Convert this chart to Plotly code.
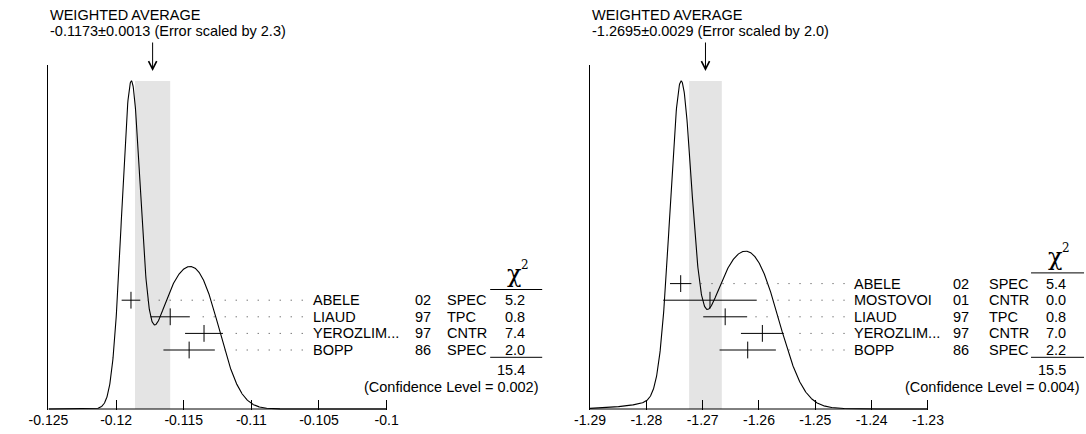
import numpy as np
import plotly.graph_objects as go

W, H = 1086, 434
FONT = "Liberation Sans, Arial, Helvetica, sans-serif"
SERIF = "DejaVu Serif, Liberation Serif, serif"
FS = 14.5

# ---------------- data ----------------
left_names = ["ABELE", "LIAUD", "YEROZLIM...", "BOPP"]
left_years = ["02", "97", "97", "86"]
left_methods = ["SPEC", "TPC", "CNTR", "SPEC"]
left_values = [-0.1189, -0.1160, -0.1135, -0.1146]
left_errors = [0.00069, 0.00145, 0.0014, 0.0019]
left_chi2 = ["5.2", "0.8", "7.4", "2.0"]
left_chi2_total = "15.4"
left_cl = "0.002"
left_avg = -0.1173
left_avg_err = 0.0013
left_scale = "2.3"
left_ticks = [-0.125, -0.12, -0.115, -0.11, -0.105, -0.1]
left_ticktext = ["-0.125", "-0.12", "-0.115", "-0.11", "-0.105", "-0.1"]

right_names = ["ABELE", "MOSTOVOI", "LIAUD", "YEROZLIM...", "BOPP"]
right_years = ["02", "01", "97", "97", "86"]
right_methods = ["SPEC", "CNTR", "TPC", "CNTR", "SPEC"]
right_values = [-1.2739, -1.2687, -1.2660, -1.2594, -1.2620]
right_errors = [0.0019, 0.0083, 0.0039, 0.0038, 0.0050]
right_chi2 = ["5.4", "0.0", "0.8", "7.0", "2.2"]
right_chi2_total = "15.5"
right_cl = "0.004"
right_avg = -1.2695
right_avg_err = 0.0029
right_scale = "2.0"
right_ticks = [-1.29, -1.28, -1.27, -1.26, -1.25, -1.24, -1.23]
right_ticktext = ["-1.29", "-1.28", "-1.27", "-1.26", "-1.25", "-1.24", "-1.23"]

# ---------------- layout geometry (pixels) ----------------
DOM_TOP, DOM_BOT = 65, 410      # plot area vertical extent
BASE_PX, PEAK_PX = 409, 81      # baseline and ideogram peak
ROW_PX = 16.6                   # row spacing
LAST_ROW_PX = 350               # y of bottom row

panels = [
    dict(names=left_names, years=left_years, methods=left_methods, values=left_values,
         errors=left_errors, chi2=left_chi2, total=left_chi2_total, cl=left_cl,
         avg=left_avg, err=left_avg_err, scale=left_scale, ticks=left_ticks, ticktext=left_ticktext,
         ax0=29, ax1=373.5, pr=540, name_px=296, year_px=400, meth_px=433, chi_r=517,
         line0=479, line1=532, cl_r=531, xa="x", ya="y", ya2="y2"),
    dict(names=right_names, years=right_years, methods=right_methods, values=right_values,
         errors=right_errors, chi2=right_chi2, total=right_chi2_total, cl=right_cl,
         avg=right_avg, err=right_avg_err, scale=right_scale, ticks=right_ticks, ticktext=right_ticktext,
         ax0=580.7, ax1=925, pr=1086, name_px=848, year_px=948, meth_px=985, chi_r=1068,
         line0=1030, line1=1084, cl_r=1082, xa="x2", ya="y3", ya2="y4"),
]

fig = go.Figure()
annotations = []
shapes = []
layout_axes = {}


def py(p):
    return 1 - p / H


for i, P in enumerate(panels):
    t0, t1 = P["ticks"][0], P["ticks"][-1]
    unit = (t1 - t0) / (P["ax1"] - P["ax0"])  # data units per pixel
    xr = [t0, t0 + (P["pr"] - P["ax0"]) * unit]

    vals = np.array(P["values"])
    errs = np.array(P["errors"])
    # ideogram: sum of gaussians, area proportional to 1/sigma
    xg = np.linspace(t0, t1, 1200)
    curve = np.zeros_like(xg)
    for v, e in zip(vals, errs):
        curve += np.exp(-0.5 * ((xg - v) / e) ** 2) / e ** 2
    cmax = curve.max()
    dom_h = DOM_BOT - DOM_TOP
    R = cmax * dom_h / (BASE_PX - PEAK_PX)
    r0 = -R * (DOM_BOT - BASE_PX) / dom_h
    yr = [r0, r0 + R]

    n = len(P["names"])
    Rrow = dom_h / ROW_PX
    rr0 = -(DOM_BOT - LAST_ROW_PX) / ROW_PX
    yr2 = [rr0, rr0 + Rrow]
    rows = list(range(n - 1, -1, -1))

    xa, ya, ya2 = P["xa"], P["ya"], P["ya2"]

    # band
    shapes.append(dict(type="rect", xref=xa, yref=ya, x0=P["avg"] - P["err"], x1=P["avg"] + P["err"],
                       y0=0, y1=cmax, fillcolor="rgb(228,228,228)", line=dict(width=0), layer="below"))

    # axis baseline
    fig.add_trace(go.Scatter(x=[t0, t1], y=[0, 0], mode="lines", xaxis=xa, yaxis=ya,
                             line=dict(color="black", width=1), hoverinfo="skip", showlegend=False))
    # curve
    fig.add_trace(go.Scatter(x=xg, y=curve, mode="lines", xaxis=xa, yaxis=ya,
                             line=dict(color="black", width=1.1), hoverinfo="skip", showlegend=False))

    # dotted leaders (drawn from name end back to bar end so dots align)
    for k in range(n):
        xs = vals[k] + errs[k] + 6 * unit
        xe = t0 + (P["name_px"] - 8 - P["ax0"]) * unit
        fig.add_trace(go.Scatter(x=[xe, xs], y=[rows[k], rows[k]], mode="lines", xaxis=xa, yaxis=ya2,
                                 line=dict(color="rgb(60,60,60)", width=1, dash="1px,10px"),
                                 hoverinfo="skip", showlegend=False))

    # measurements
    fig.add_trace(go.Scatter(x=vals, y=rows, mode="markers", xaxis=xa, yaxis=ya2,
                             marker=dict(symbol="line-ns", size=12, line=dict(color="black", width=1),
                                         color="black"),
                             error_x=dict(type="data", array=errs, color="black", thickness=1, width=0),
                             hoverinfo="skip", showlegend=False))

    # axes
    xname = "xaxis" if i == 0 else "xaxis2"
    yname = "yaxis" if i == 0 else "yaxis3"
    y2name = "yaxis2" if i == 0 else "yaxis4"
    layout_axes[xname] = dict(domain=[P["ax0"] / W, P["pr"] / W], range=xr, anchor=ya,
                              tickvals=P["ticks"], ticktext=P["ticktext"], ticks="inside", ticklen=10,
                              tickwidth=1, tickcolor="black", showline=False, showgrid=False,
                              zeroline=False, tickfont=dict(family=FONT, size=14, color="black"),
                              fixedrange=True)
    layout_axes[yname] = dict(domain=[1 - DOM_BOT / H, 1 - DOM_TOP / H], range=yr, anchor=xa,
                              showline=True, linecolor="black", linewidth=1, showticklabels=False,
                              ticks="", showgrid=False, zeroline=False, fixedrange=True)
    layout_axes[y2name] = dict(overlaying=ya, range=yr2, anchor=xa, visible=False, fixedrange=True)

    # texts
    x_left = P["ax0"] / W
    annotations.append(dict(text="WEIGHTED AVERAGE", x=x_left, y=py(15), xref="paper", yref="paper",
                            xanchor="left", yanchor="middle", showarrow=False,
                            font=dict(family=FONT, size=FS, color="black")))
    annotations.append(dict(text=f"{P['avg']:.4f}\u00b1{P['err']:.4f} (Error scaled by {P['scale']})",
                            x=x_left, y=py(31), xref="paper", yref="paper",
                            xanchor="left", yanchor="middle", showarrow=False,
                            font=dict(family=FONT, size=FS, color="black")))
    annotations.append(dict(text="", x=P["avg"], y=py(71), xref=xa, yref="paper", showarrow=True,
                            ax=0, ay=-30, arrowhead=5, arrowsize=1.6, arrowwidth=1, arrowcolor="black"))

    for k in range(n):
        ypx = LAST_ROW_PX - rows[k] * ROW_PX
        for txt, xp, anc in [(P["names"][k], P["name_px"], "left"), (P["years"][k], P["year_px"], "left"),
                             (P["methods"][k], P["meth_px"], "left"), (P["chi2"][k], P["chi_r"], "right")]:
            annotations.append(dict(text=txt, x=xp / W, y=py(ypx), xref="paper", yref="paper",
                                    xanchor=anc, yanchor="middle", showarrow=False,
                                    font=dict(family=FONT, size=FS, color="black")))

    top_row_px = LAST_ROW_PX - (n - 1) * ROW_PX
    hdr_line_px = top_row_px - 10.7
    shapes.append(dict(type="line", xref="paper", yref="paper", x0=P["line0"] / W, x1=P["line1"] / W,
                       y0=py(hdr_line_px), y1=py(hdr_line_px), line=dict(color="black", width=1)))
    shapes.append(dict(type="line", xref="paper", yref="paper", x0=P["line0"] / W, x1=P["line1"] / W,
                       y0=py(LAST_ROW_PX + 7.3), y1=py(LAST_ROW_PX + 7.3), line=dict(color="black", width=1)))
    chi_cx = (P["line0"] + P["line1"]) / 2 - 2
    annotations.append(dict(text="\u03c7", x=chi_cx / W, y=py(hdr_line_px - 16), xref="paper", yref="paper",
                            xanchor="center", yanchor="middle", showarrow=False,
                            font=dict(family=SERIF, size=24, color="black")))
    annotations.append(dict(text="2", x=(chi_cx + 11) / W, y=py(hdr_line_px - 25), xref="paper", yref="paper",
                            xanchor="center", yanchor="middle", showarrow=False,
                            font=dict(family=SERIF, size=12, color="black")))
    annotations.append(dict(text=P["total"], x=P["chi_r"] / W, y=py(370), xref="paper", yref="paper",
                            xanchor="right", yanchor="middle", showarrow=False,
                            font=dict(family=FONT, size=FS, color="black")))
    annotations.append(dict(text=f"(Confidence Level = {P['cl']})", x=P["cl_r"] / W, y=py(386.7),
                            xref="paper", yref="paper", xanchor="right", yanchor="middle", showarrow=False,
                            font=dict(family=FONT, size=FS, color="black")))

fig.update_layout(width=W, height=H, margin=dict(l=0, r=0, t=0, b=0),
                  paper_bgcolor="white", plot_bgcolor="rgba(0,0,0,0)",
                  showlegend=False, annotations=annotations, shapes=shapes,
                  font=dict(family=FONT, size=14, color="black"), **layout_axes)

fig.write_html("out.html", config={"displayModeBar": False},
               post_script="document.body.style.margin='0';document.body.style.padding='0';")
